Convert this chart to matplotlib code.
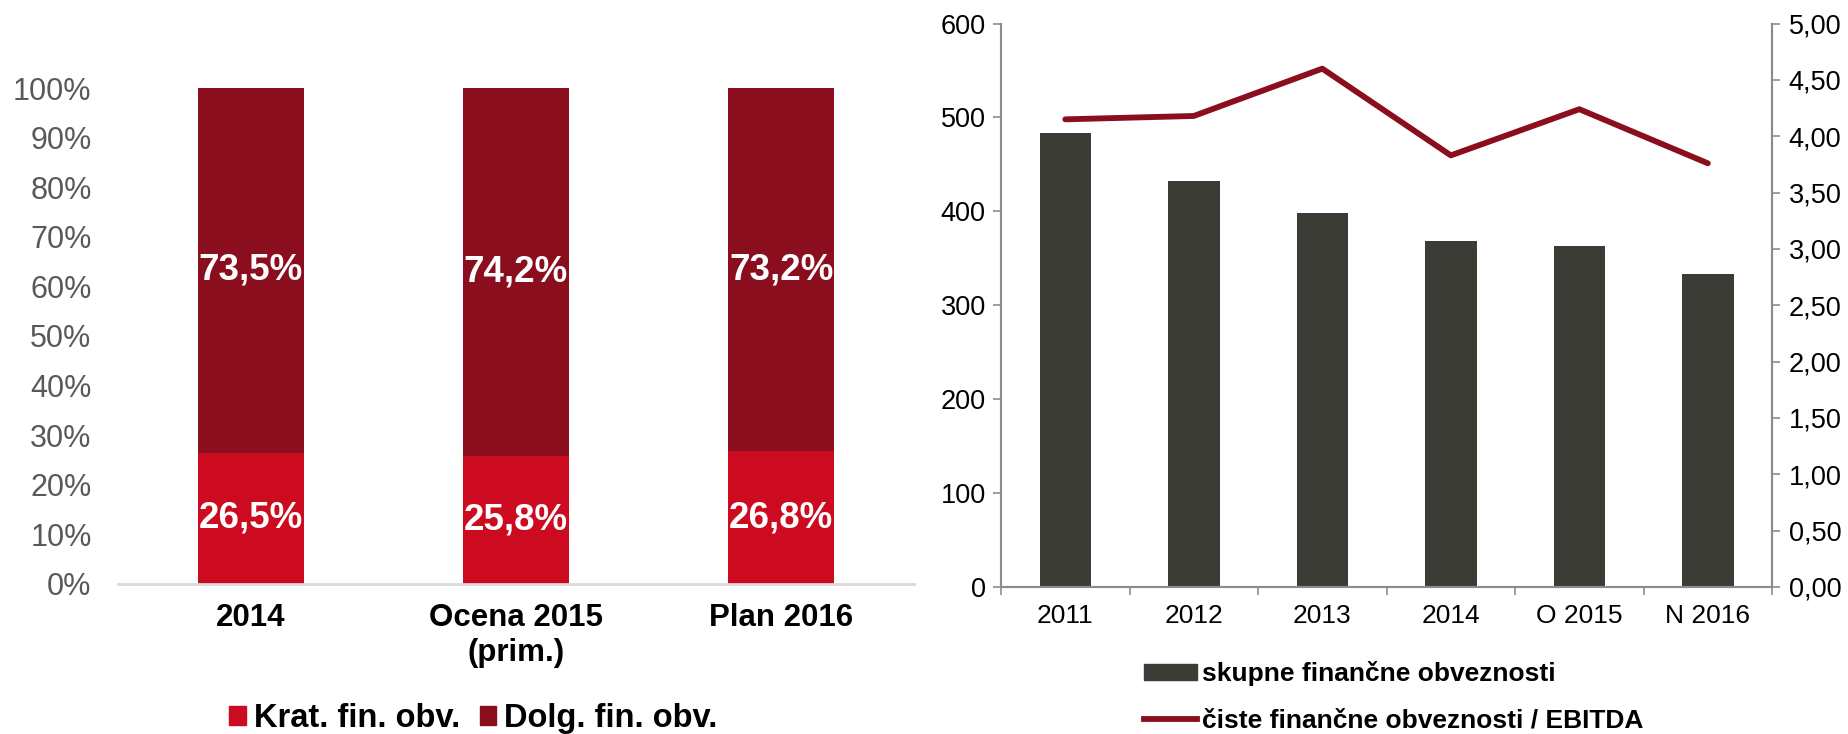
import matplotlib
matplotlib.use('Agg')
from matplotlib import pyplot as plt
from matplotlib.ticker import FuncFormatter, FixedLocator
from matplotlib.patches import Patch
from matplotlib.lines import Line2D

plt.rcParams['font.family'] = ['Liberation Sans', 'DejaVu Sans']

# Left chart: structure of financial liabilities
periods = ['2014', 'Ocena 2015\n(prim.)', 'Plan 2016']
krat = [26.5, 25.8, 26.8]
dolg = [73.5, 74.2, 73.2]

# Right chart: total liabilities and net liabilities / EBITDA
years = ['2011', '2012', '2013', '2014', 'O 2015', 'N 2016']
skupne = [483, 432, 398, 368, 363, 333]
ratio = [4.15, 4.18, 4.60, 3.83, 4.24, 3.76]

red = '#CC0A20'
dark_red = '#8A0E1E'
bar_gray = '#3C3C36'
spine_gray = '#8C8C8C'


def comma(v, digits):
    return '{:.{d}f}'.format(v, d=digits).replace('.', ',')


fig = plt.figure(figsize=(18.49, 7.34), dpi=100)

# ---- left chart
ax1 = fig.add_axes([0.0638, 0.2044, 0.4305, 0.6757])
x = range(len(periods))
ax1.bar(x, krat, width=0.4, color=red)
ax1.bar(x, dolg, width=0.4, bottom=krat, color=dark_red)

for i in x:
    ax1.text(i, krat[i] / 2, comma(krat[i], 1) + '%', ha='center', va='center',
             color='white', fontsize=26.5, fontweight='bold')
    ax1.text(i, krat[i] + dolg[i] / 2, comma(dolg[i], 1) + '%', ha='center',
             va='center', color='white', fontsize=26.5, fontweight='bold')

ax1.set_xlim(-0.5, 2.5)
ax1.set_ylim(0, 100)
ax1.set_yticks(range(0, 101, 10))
ax1.yaxis.set_major_formatter(FuncFormatter(lambda v, p: '{:d}%'.format(int(round(v)))))
ax1.set_xticks(list(x))
ax1.set_xticklabels(periods, fontsize=22.5, fontweight='bold', linespacing=1.2)
ax1.tick_params(axis='x', length=0, pad=14, colors='black')
ax1.tick_params(axis='y', length=0, pad=19, labelsize=22, labelcolor='#595959')
for s in ['top', 'right', 'left']:
    ax1.spines[s].set_visible(False)
ax1.spines['bottom'].set_color('#D9D9D9')
ax1.spines['bottom'].set_linewidth(2)

handles1 = [Patch(color=red, label='Krat. fin. obv.'),
            Patch(color=dark_red, label='Dolg. fin. obv.')]
fig.legend(handles=handles1, loc='center', bbox_to_anchor=(0.256, 0.021), ncol=2,
           frameon=False, prop={'size': 23.5, 'weight': 'bold'}, handlelength=0.5,
           handleheight=0.5, handletextpad=0.25, columnspacing=0.6, borderpad=0)

# ---- right chart
ax2 = fig.add_axes([0.5414, 0.2003, 0.417, 0.7676])
ax3 = ax2.twinx()
xr = range(len(years))
ax2.bar(xr, skupne, width=0.4, color=bar_gray, zorder=2)
ax3.plot(xr, ratio, color=dark_red, linewidth=4.2, solid_capstyle='round', zorder=3)

ax2.set_xlim(-0.5, len(years) - 0.5)
ax2.set_ylim(0, 600)
ax2.set_yticks(range(0, 601, 100))
ax3.set_ylim(0, 5)
ax3.set_yticks([i * 0.5 for i in range(11)])
ax3.yaxis.set_major_formatter(FuncFormatter(lambda v, p: comma(v, 2)))

ax2.set_xticks(list(xr))
ax2.set_xticklabels(years)
ax2.xaxis.set_minor_locator(FixedLocator([i - 0.5 for i in range(len(years) + 1)]))
ax2.tick_params(axis='x', which='major', length=0, pad=12, labelsize=19)
ax2.tick_params(axis='x', which='minor', length=6, width=1.2, color=spine_gray)
ax2.tick_params(axis='y', length=6, width=1.2, color=spine_gray, pad=5, labelsize=19.5)
ax3.tick_params(axis='y', length=6, width=1.2, color=spine_gray, pad=6, labelsize=19.5)

for a in (ax2, ax3):
    a.spines['top'].set_visible(False)
    for s in ['left', 'right', 'bottom']:
        a.spines[s].set_color(spine_gray)
        a.spines[s].set_linewidth(1.5)

handles2 = [Patch(color=bar_gray, label='skupne finančne obveznosti'),
            Line2D([0], [0], color=dark_red, linewidth=4.2, label='čiste finančne obveznosti / EBITDA')]
fig.legend(handles=handles2, loc='upper left', bbox_to_anchor=(0.6115, 0.117),
           frameon=False, prop={'size': 19, 'weight': 'bold'}, handlelength=2.0,
           handleheight=0.55, handletextpad=0.2, labelspacing=0.85, borderpad=0)

fig.savefig('out.png', dpi=100)
